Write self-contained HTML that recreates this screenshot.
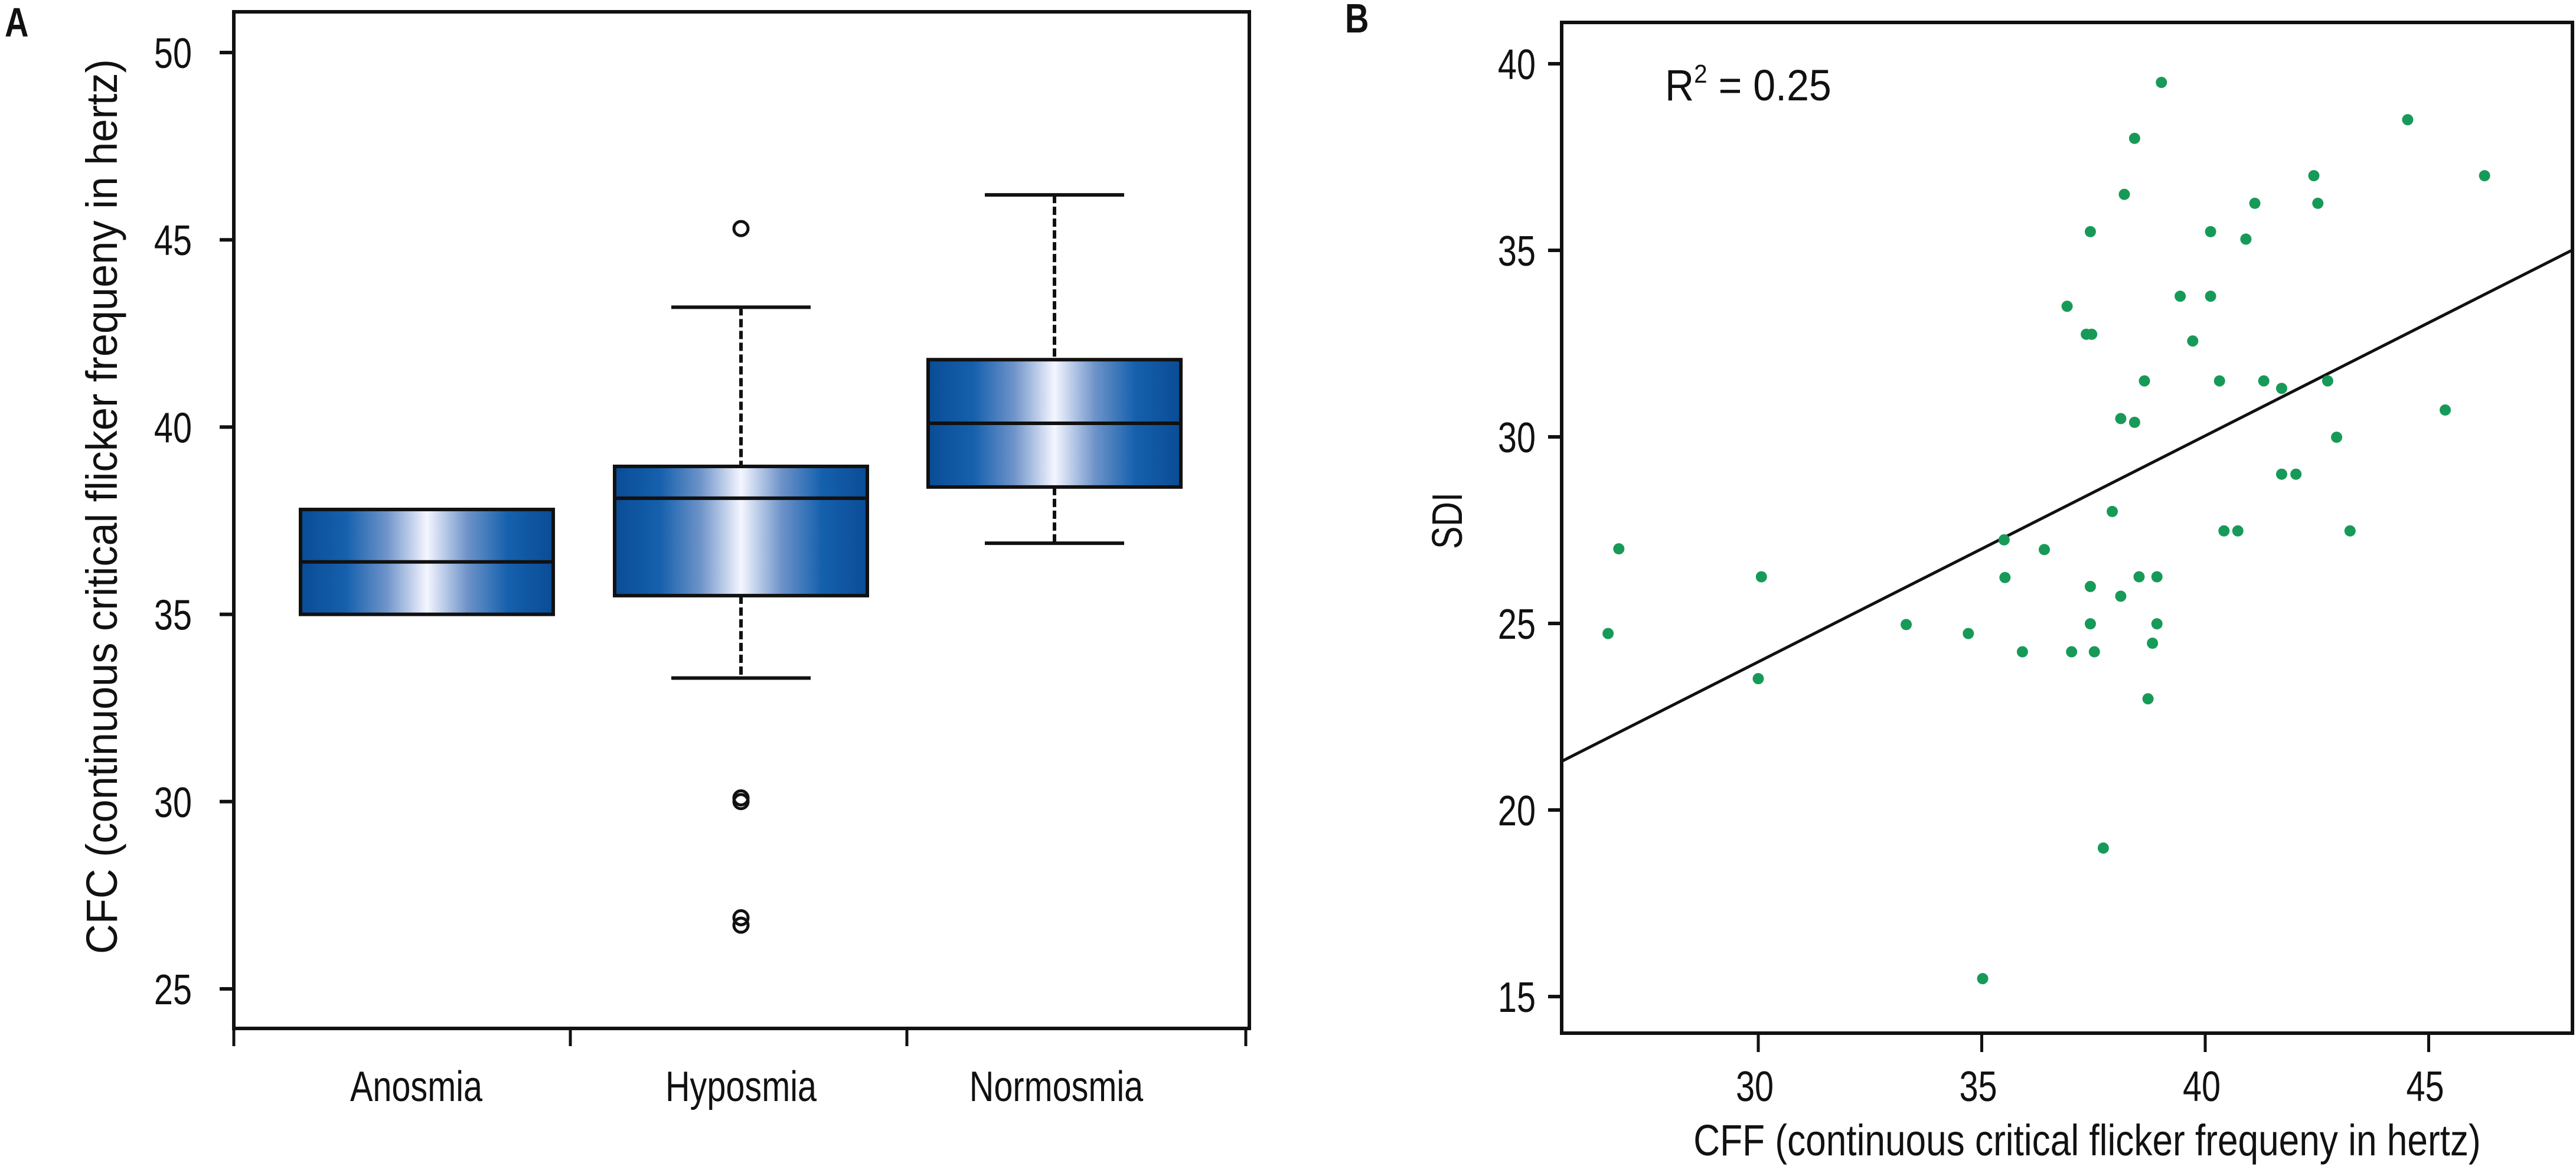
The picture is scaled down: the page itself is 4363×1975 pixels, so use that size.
<!DOCTYPE html>
<html><head><meta charset="utf-8"><style>
html,body{margin:0;padding:0;background:#fff;}
svg{display:block;}
text{font-family:"Liberation Sans Narrow","Liberation Sans",sans-serif;fill:#111;}
</style></head><body>
<svg id="chart" width="4363" height="1975" viewBox="0 0 4363 1975" xmlns="http://www.w3.org/2000/svg">
<defs>
<linearGradient id="boxgrad" x1="0" x2="1" y1="0" y2="0">
<stop offset="0" stop-color="#0a4c96"/>
<stop offset="0.18" stop-color="#1560ad"/>
<stop offset="0.34" stop-color="#6e93c9"/>
<stop offset="0.5" stop-color="#f4f6ff"/>
<stop offset="0.66" stop-color="#6e93c9"/>
<stop offset="0.82" stop-color="#1560ad"/>
<stop offset="1" stop-color="#0a4c96"/>
</linearGradient>
</defs>
<g id="panelA"></g>
<g id="panelB"></g>
</svg>
<script>
// Panel A data
const categories = ["Anosmia","Hyposmia","Normosmia"];
const q1 = [35.0, 35.5, 38.4];
const medians = [36.4, 38.1, 40.1];
const q3 = [37.8, 38.95, 41.8];
const whiskLow = [null, 33.3, 36.9];
const whiskHigh = [null, 43.2, 46.2];
const outliers = [[], [45.3, 30.0, 30.1, 26.7, 26.9], []];
const yTicksA = [25, 30, 35, 40, 45, 50];

// Panel B data
const cff = [39.02,38.42,44.53,42.43,46.25,38.19,41.11,42.52,37.43,40.12,40.91,39.44,40.12,36.91,37.34,37.46,39.72,38.64,40.32,41.31,42.74,41.71,38.11,38.42,45.37,42.94,41.71,42.03,37.92,40.42,40.73,43.24,26.88,35.50,36.40,30.07,35.52,37.43,38.52,38.92,38.11,26.64,33.31,34.70,37.43,38.92,35.91,37.01,37.52,38.82,30.0,38.72,37.72,35.02];
const sdi = [39.5,38.0,38.5,37.0,37.0,36.5,36.26,36.26,35.5,35.5,35.3,33.77,33.77,33.5,32.75,32.75,32.57,31.5,31.5,31.5,31.5,31.3,30.49,30.39,30.72,29.99,29.0,29.0,28.0,27.48,27.48,27.48,27.0,27.24,26.98,26.25,26.23,25.99,26.25,26.25,25.73,24.73,24.97,24.73,24.99,24.99,24.24,24.24,24.24,24.47,23.52,22.98,18.98,15.48];
const fitIntercept = 5.79;
const fitSlope = 0.606;
const xTicksB = [30, 35, 40, 45];
const yTicksB = [15, 20, 25, 30, 35, 40];

const NS = "http://www.w3.org/2000/svg";
function mk(parent, tag, attrs, txt){
  const e = document.createElementNS(NS, tag);
  for (const k in attrs) e.setAttribute(k, attrs[k]);
  if (txt !== undefined) e.textContent = txt;
  parent.appendChild(e);
  return e;
}

// ---------- Panel A ----------
const A = document.getElementById('panelA');
const ayA = v => 89 + (50 - v) * 63.44;
const boxCx = [723, 1255, 1786];
const labelCx = [705, 1255, 1789];
const bw = 214;
const capW = 118;

let t = mk(A, 'text', {x: 8, y: 62, 'font-size': 70, 'font-weight': 'bold'}, 'A');



let fr = mk(A, 'path', {d: 'M396,20 L2116,20 L2116,1742 L396,1742 Z', fill: 'none', stroke: '#111', 'stroke-width': 6});



[396, 966, 1536, 2110].forEach(x => {
  const l = mk(A, 'line', {x1: x, x2: x, y1: 1742, y2: 1772, stroke: '#111', 'stroke-width': 5});
  
  
});

yTicksA.forEach(v => {
  const y = ayA(v);
  const l = mk(A, 'line', {x1: 372, x2: 396, y1: y, y2: y, stroke: '#111', 'stroke-width': 6});
  
  
  const tx = mk(A, 'text', {x: 325, y: y + 26, 'text-anchor': 'end', 'font-size': 72}, String(v));
  
  
});

let yl = mk(A, 'text', {x: 0, y: 0, 'text-anchor': 'middle', 'font-size': 74, 'data-f': '0.95', transform: 'translate(198,858) rotate(-90)'}, 'CFC (continuous critical flicker frequeny in hertz)');



categories.forEach((c, i) => {
  const cx = boxCx[i];
  const g = mk(A, 'g', {});
  
  
  if (whiskHigh[i] !== null) {
    const w1 = mk(g, 'line', {x1: cx, x2: cx, y1: ayA(whiskHigh[i]), y2: ayA(q3[i]), stroke: '#111', 'stroke-width': 6, 'stroke-dasharray': '14,6'});
    
    
    const c1 = mk(g, 'line', {x1: cx - capW, x2: cx + capW, y1: ayA(whiskHigh[i]), y2: ayA(whiskHigh[i]), stroke: '#111', 'stroke-width': 6});
    
    
    const w2 = mk(g, 'line', {x1: cx, x2: cx, y1: ayA(q1[i]), y2: ayA(whiskLow[i]), stroke: '#111', 'stroke-width': 6, 'stroke-dasharray': '14,6'});
    
    
    const c2 = mk(g, 'line', {x1: cx - capW, x2: cx + capW, y1: ayA(whiskLow[i]), y2: ayA(whiskLow[i]), stroke: '#111', 'stroke-width': 6});
    
    
  }
  const r = mk(g, 'rect', {x: cx - bw, y: ayA(q3[i]), width: 2 * bw, height: ayA(q1[i]) - ayA(q3[i]), fill: 'url(#boxgrad)', stroke: '#111', 'stroke-width': 6});
  
  
  const m = mk(g, 'line', {x1: cx - bw, x2: cx + bw, y1: ayA(medians[i]), y2: ayA(medians[i]), stroke: '#111', 'stroke-width': 6});
  
  
  outliers[i].forEach(v => {
    const o = mk(g, 'circle', {cx: cx, cy: ayA(v), r: 12, fill: 'none', stroke: '#111', 'stroke-width': 5});
    
    
  });
  const lab = mk(A, 'text', {x: labelCx[i], y: 1865, 'text-anchor': 'middle', 'font-size': 72}, c);
  
  
});

// ---------- Panel B ----------
const B = document.getElementById('panelB');
const bx = v => 2978 + (v - 30) * 75.7;
const by = v => 1688 - (v - 15) * 63.2;

let tb = mk(B, 'text', {x: 2278, y: 55, 'font-size': 70, 'font-weight': 'bold'}, 'B');



let frB = mk(B, 'path', {d: 'M2645,38 L4357,38 L4357,1750 L2645,1750 Z', fill: 'none', stroke: '#111', 'stroke-width': 6});



xTicksB.forEach(v => {
  const x = bx(v);
  const l = mk(B, 'line', {x1: x, x2: x, y1: 1750, y2: 1782, stroke: '#111', 'stroke-width': 5});
  
  
  const tx = mk(B, 'text', {x: x - 6, y: 1865, 'text-anchor': 'middle', 'font-size': 72}, String(v));
  
  
});
yTicksB.forEach(v => {
  const y = by(v);
  const l = mk(B, 'line', {x1: 2622, x2: 2645, y1: y, y2: y, stroke: '#111', 'stroke-width': 6});
  
  
  const tx = mk(B, 'text', {x: 2601, y: y + 26, 'text-anchor': 'end', 'font-size': 72}, String(v));
  
  
});

let xt = mk(B, 'text', {x: 3535, y: 1957, 'text-anchor': 'middle', 'font-size': 74, 'data-f': '0.84'}, 'CFF (continuous critical flicker frequeny in hertz)');


let ytB = mk(B, 'text', {x: 0, y: 0, 'text-anchor': 'middle', 'font-size': 72, transform: 'translate(2476,882) rotate(-90)'}, 'SDI');



let r2 = mk(B, 'text', {x: 2820, y: 170, 'font-size': 74, 'data-f': '0.92'}, '');


mk(r2, 'tspan', {}, 'R');
mk(r2, 'tspan', {'font-size': 44, dy: -30}, '2');
mk(r2, 'tspan', {dy: 30}, ' = 0.25');

const xMin = 25.6, xMax = 48.2;
let fit = mk(B, 'line', {x1: bx(xMin), y1: by(fitIntercept + fitSlope * xMin), x2: bx(xMax), y2: by(fitIntercept + fitSlope * xMax), stroke: '#111', 'stroke-width': 5});



cff.forEach((v, i) => {
  const d = mk(B, 'circle', {cx: bx(v), cy: by(sdi[i]), r: 9.5, fill: '#179a58'});
  
  
});

// condense labels to mimic the narrow reference font
document.querySelectorAll('#chart text').forEach(el => {
  if (el.textContent.length < 1) return;
  const len = el.getComputedTextLength();
  const f = el.hasAttribute('data-f') ? parseFloat(el.getAttribute('data-f')) : 0.8;
  if (len > 0) {
    el.setAttribute('textLength', (len * f).toFixed(1));
    el.setAttribute('lengthAdjust', 'spacingAndGlyphs');
  }
});
</script>
</body></html>
